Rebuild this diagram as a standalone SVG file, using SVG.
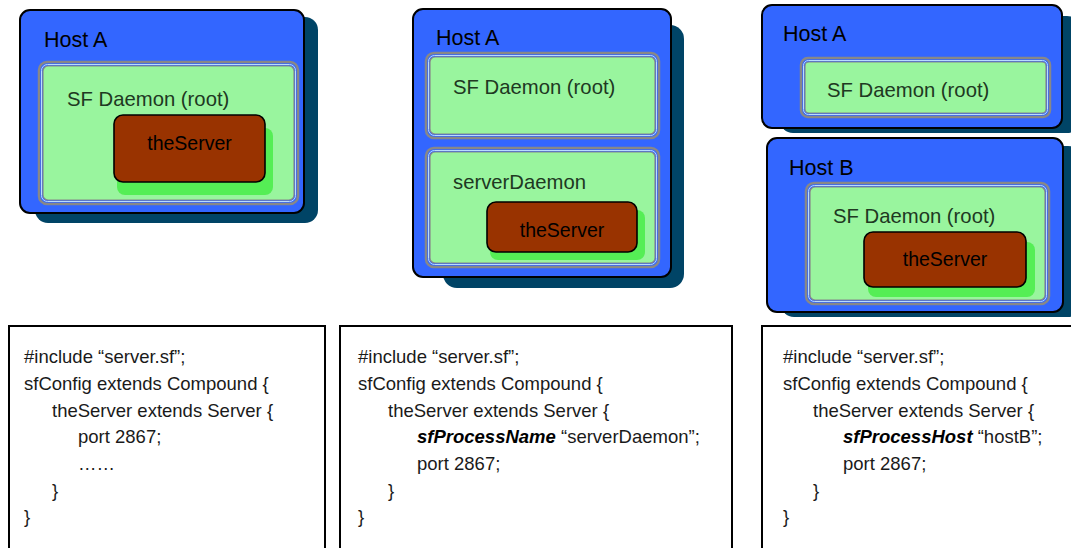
<svg xmlns="http://www.w3.org/2000/svg" width="1071" height="548" viewBox="0 0 1071 548">
<style>
.shadow{fill:#004466;}
.host{fill:#3366ff;stroke:#000;stroke-width:2;}
.dm-o{fill:none;stroke:#888;stroke-width:2.5;}
.dm-m{fill:none;stroke:#b8dcff;stroke-width:1;}
.dm-i{fill:#99f59e;stroke:#888;stroke-width:1.2;}
.gsh{fill:#55ee55;}
.srv{fill:#993300;stroke:#000;stroke-width:1.6;}
.hl{font-family:"Liberation Sans",Arial,sans-serif;font-size:21.5px;fill:#000;}
.dl{font-family:"Liberation Sans",Arial,sans-serif;font-size:20.3px;fill:#203822;}
.sl{font-family:"Liberation Sans",Arial,sans-serif;font-size:19.5px;fill:#000;text-anchor:middle;}
.code{fill:#fff;stroke:#000;stroke-width:2;}
.ct{font-family:"Liberation Sans",Arial,sans-serif;font-size:18.5px;fill:#1a1a1a;}
.em{font-weight:bold;font-style:italic;fill:#000;}
</style>

<!-- Panel 1 -->
<g id="p1-hostA">
<rect class="shadow" x="35" y="17" width="283" height="206" rx="13"/>
<rect class="host" x="20" y="10" width="284" height="203" rx="10"/>
<text class="hl" x="44" y="47">Host A</text>
</g>
<g id="p1-daemon">
<rect class="dm-o" x="39" y="62" width="259" height="142" rx="8"/>
<rect class="dm-m" x="41.5" y="64.5" width="254" height="137" rx="6"/>
<rect class="dm-i" x="43" y="66" width="251" height="134" rx="5"/>
<text class="dl" x="67" y="106">SF Daemon (root)</text>
</g>
<g id="p1-server">
<rect class="gsh" x="117" y="128" width="156" height="67" rx="8"/>
<rect class="srv" x="114" y="115" width="151" height="67" rx="9"/>
<text class="sl" x="189.5" y="150">theServer</text>
</g>

<!-- Panel 2 -->
<g id="p2-hostA">
<rect class="shadow" x="443" y="25" width="241" height="263" rx="14"/>
<rect class="host" x="413" y="9" width="258" height="268" rx="10"/>
<text class="hl" x="436" y="45">Host A</text>
</g>
<g id="p2-daemon">
<rect class="dm-o" x="426" y="53" width="233" height="85" rx="8"/>
<rect class="dm-m" x="428.5" y="55.5" width="228" height="80" rx="6"/>
<rect class="dm-i" x="430" y="57" width="225" height="77" rx="5"/>
<text class="dl" x="453" y="94">SF Daemon (root)</text>
</g>
<g id="p2-serverDaemon">
<rect class="dm-o" x="426" y="148" width="233" height="119" rx="8"/>
<rect class="dm-m" x="428.5" y="150.5" width="228" height="114" rx="6"/>
<rect class="dm-i" x="430" y="152" width="225" height="111" rx="5"/>
<text class="dl" x="453" y="189">serverDaemon</text>
</g>
<g id="p2-server">
<rect class="gsh" x="490" y="210" width="155" height="50" rx="8"/>
<rect class="srv" x="487" y="202" width="150" height="50" rx="9"/>
<text class="sl" x="562" y="237">theServer</text>
</g>

<!-- Panel 3 -->
<g id="p3-hostA">
<rect class="shadow" x="780" y="16" width="300" height="117" rx="13"/>
<rect class="host" x="762" y="5" width="300" height="123" rx="10"/>
<text class="hl" x="783" y="41">Host A</text>
</g>
<g id="p3-daemonA">
<rect class="dm-o" x="801" y="58" width="249" height="59" rx="7"/>
<rect class="dm-m" x="803.5" y="60.5" width="244" height="54" rx="5"/>
<rect class="dm-i" x="805" y="62" width="241" height="51" rx="4"/>
<text class="dl" x="827" y="97">SF Daemon (root)</text>
</g>
<g id="p3-hostB">
<rect class="shadow" x="781" y="146" width="300" height="171" rx="13"/>
<rect class="host" x="767" y="138" width="296" height="174" rx="10"/>
<text class="hl" x="789" y="175">Host B</text>
</g>
<g id="p3-daemonB">
<rect class="dm-o" x="806" y="183" width="243" height="121" rx="8"/>
<rect class="dm-m" x="808.5" y="185.5" width="238" height="116" rx="6"/>
<rect class="dm-i" x="810" y="187" width="235" height="113" rx="5"/>
<text class="dl" x="833" y="223">SF Daemon (root)</text>
</g>
<g id="p3-server">
<rect class="gsh" x="868" y="242" width="167" height="55" rx="8"/>
<rect class="srv" x="864" y="232" width="162" height="55" rx="9"/>
<text class="sl" x="945" y="266">theServer</text>
</g>

<!-- Code boxes -->
<g id="code1">
<rect class="code" x="9" y="326" width="316" height="240"/>
<text class="ct" x="24" y="363">#include “server.sf”;</text>
<text class="ct" x="24" y="390">sfConfig extends Compound {</text>
<text class="ct" x="52" y="416.5">theServer extends Server {</text>
<text class="ct" x="78" y="443">port 2867;</text>
<text class="ct" x="78" y="470">……</text>
<text class="ct" x="52" y="496.5">}</text>
<text class="ct" x="24" y="523">}</text>
</g>
<g id="code2">
<rect class="code" x="340" y="326" width="392" height="240"/>
<text class="ct" x="358" y="363">#include “server.sf”;</text>
<text class="ct" x="358" y="390">sfConfig extends Compound {</text>
<text class="ct" x="388" y="416.5">theServer extends Server {</text>
<text class="ct" x="417" y="443"><tspan class="em">sfProcessName</tspan> “serverDaemon”;</text>
<text class="ct" x="417" y="470">port 2867;</text>
<text class="ct" x="388" y="496.5">}</text>
<text class="ct" x="358" y="523">}</text>
</g>
<g id="code3">
<rect class="code" x="762" y="326" width="330" height="240"/>
<text class="ct" x="783" y="363">#include “server.sf”;</text>
<text class="ct" x="783" y="390">sfConfig extends Compound {</text>
<text class="ct" x="813" y="416.5">theServer extends Server {</text>
<text class="ct" x="843" y="443"><tspan class="em">sfProcessHost</tspan> “hostB”;</text>
<text class="ct" x="843" y="470">port 2867;</text>
<text class="ct" x="813" y="496.5">}</text>
<text class="ct" x="783" y="523">}</text>
</g>
<g id="connectors"></g>
</svg>
